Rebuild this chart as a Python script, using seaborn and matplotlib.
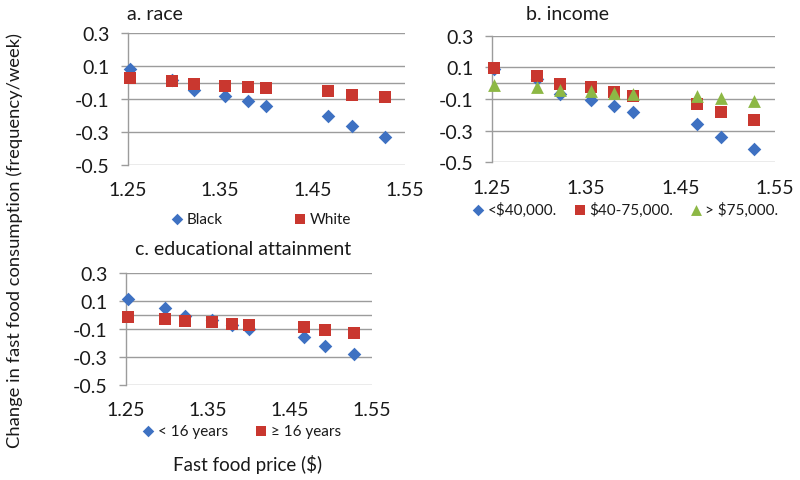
import matplotlib
matplotlib.use("Agg")
import matplotlib.pyplot as plt
import seaborn as sns
import pandas as pd

sns.set_theme(style="white")
plt.rcParams['font.family'] = ['Lato', 'DejaVu Sans']

# ---- data ----
price = [1.2525, 1.2975, 1.322, 1.355, 1.380, 1.400, 1.467, 1.493, 1.528]

race_black = [0.085, 0.015, -0.043, -0.080, -0.110, -0.140, -0.204, -0.266, -0.329]
race_white = [0.026, 0.010, -0.007, -0.019, -0.025, -0.035, -0.053, -0.074, -0.090]

inc_low = [0.090, 0.026, -0.068, -0.104, -0.142, -0.184, -0.260, -0.338, -0.416]
inc_mid = [0.096, 0.043, -0.005, -0.026, -0.054, -0.079, -0.132, -0.180, -0.230]
inc_high = [-0.012, -0.022, -0.041, -0.047, -0.064, -0.068, -0.083, -0.096, -0.115]

edu_low = [0.111, 0.052, -0.006, -0.034, -0.070, -0.101, -0.158, -0.220, -0.283]
edu_high = [-0.013, -0.030, -0.046, -0.053, -0.065, -0.072, -0.089, -0.106, -0.130]

race_labels = ["Black", "White"]
inc_labels = ["<$40,000.", "$40-75,000.", "> $75,000."]
edu_labels = ["< 16 years", "\u2265 16 years"]

titles = ["a. race", "b. income", "c. educational attainment"]
yticks = [0.3, 0.1, -0.1, -0.3, -0.5]
xticks = [1.25, 1.35, 1.45, 1.55]
xlabel = "Fast food price ($)"
ylabel = "Change in fast food consumption (frequency/week)"

BLUE = "#3E71C2"
RED = "#C9372F"
GREEN = "#8DB845"
GRID = "#9C9C9C"
TXT = "#1a1a1a"
style = {"D": (BLUE, 48), "s": (RED, 72), "^": (GREEN, 85)}

W, H = 800, 481
fig = plt.figure(figsize=(8.0, 4.81), dpi=100)


def px_axes(l, t, r, b):
    return fig.add_axes([l / W, 1 - b / H, (r - l) / W, (b - t) / H])


def setup(ax):
    ax.set_xlim(1.25, 1.55)
    ax.set_ylim(-0.5, 0.3)
    ax.set_yticks(yticks)
    ax.set_yticklabels([f"{v:.1f}" for v in yticks])
    ax.set_xticks(xticks)
    ax.set_xticklabels([f"{v:.2f}" for v in xticks])
    for v in yticks + [0.0]:
        ax.axhline(v, color=GRID, lw=1.0, zorder=1)
    for s in ["top", "right", "bottom"]:
        ax.spines[s].set_visible(False)
    ax.spines["left"].set_color(GRID)
    ax.spines["left"].set_linewidth(1.0)
    ax.tick_params(axis="y", length=5, width=1.0, color=GRID, pad=8,
                   labelsize=14, labelcolor=TXT, left=True)
    ax.tick_params(axis="x", length=0, pad=12, labelsize=14, labelcolor=TXT)
    ax.set_xlabel("")
    ax.set_ylabel("")
    ax.set_facecolor("none")


def draw(ax, series, labels, markers):
    for vals, lab, m in zip(series, labels, markers):
        col, s = style[m]
        df = pd.DataFrame({"price": price, "change": vals})
        sns.scatterplot(data=df, x="price", y="change", ax=ax, color=col,
                        marker=m, s=s, linewidth=0, label=lab, zorder=3,
                        clip_on=False)


ax_a = px_axes(127.7, 34.3, 405, 165.7)
draw(ax_a, [race_black, race_white], race_labels, ["D", "s"])
setup(ax_a)

ax_b = px_axes(491.7, 36.7, 775, 163.3)
draw(ax_b, [inc_low, inc_mid, inc_high], inc_labels, ["D", "s", "^"])
setup(ax_b)

ax_c = px_axes(125.7, 274, 371.7, 385.7)
draw(ax_c, [edu_low, edu_high], edu_labels, ["D", "s"])
setup(ax_c)


def put_legend(ax, cx, cy, colsp, ncol):
    h, l = ax.get_legend_handles_labels()
    leg = ax.legend(h, l, loc="center", bbox_to_anchor=(cx / W, 1 - cy / H),
                    bbox_transform=fig.transFigure, ncol=ncol, frameon=False,
                    fontsize=11, handlelength=0.9, handletextpad=0.2,
                    columnspacing=colsp, borderpad=0, markerscale=0.85)
    for t in leg.get_texts():
        t.set_color(TXT)


put_legend(ax_a, 260.5, 220, 4.6, 2)
put_legend(ax_b, 625, 210, 1.0, 3)
put_legend(ax_c, 241, 432, 1.7, 2)

fig.text(155 / W, 1 - 15 / H, titles[0], ha="center", va="center", fontsize=14, color=TXT)
fig.text(567 / W, 1 - 15 / H, titles[1], ha="center", va="center", fontsize=14, color=TXT)
fig.text(243 / W, 1 - 250 / H, titles[2], ha="center", va="center", fontsize=14, color=TXT)
fig.text(248 / W, 1 - 464 / H, xlabel, ha="center", va="center", fontsize=13.5, color=TXT)
fig.text(15 / W, 1 - 240 / H, ylabel, ha="center", va="center", fontsize=13.2,
         rotation=90, color=TXT)

fig.savefig("out.png", dpi=100)
